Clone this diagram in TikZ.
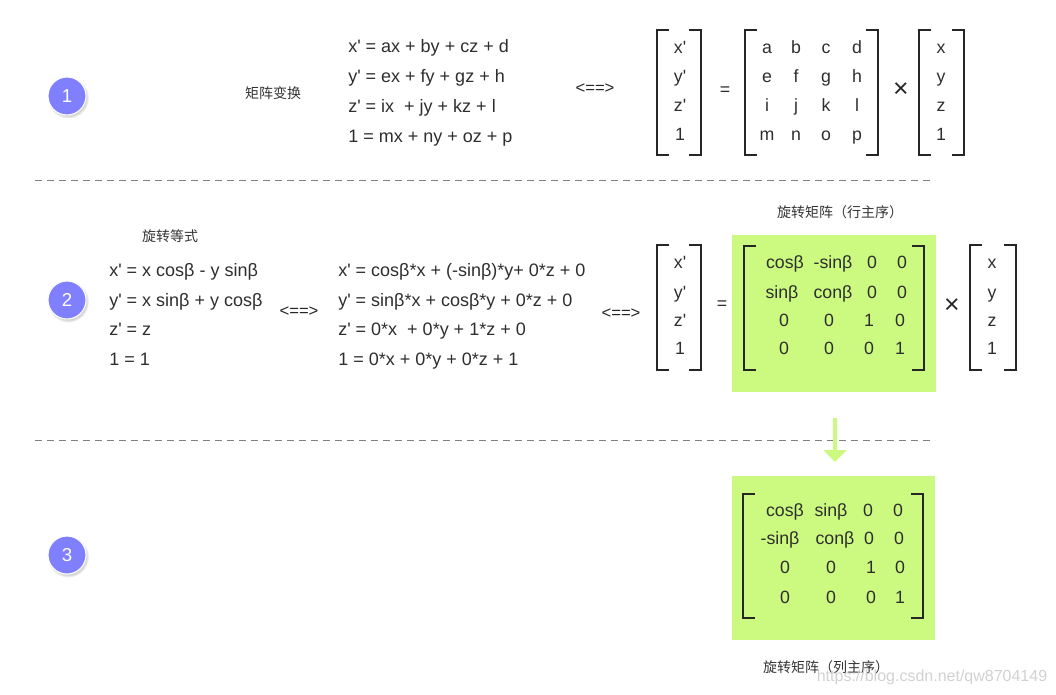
\documentclass[tikz,border=0pt]{standalone}
\usepackage{fontspec}
\setmainfont{Liberation Sans}[Ligatures=TeXOff]
\newfontfamily\cjk{Noto Sans CJK SC}
\usetikzlibrary{arrows.meta, shadows}
\definecolor{matgreen}{RGB}{204,249,128}
\definecolor{stepblue}{RGB}{128,128,255}
\tikzset{
  stepdot/.style={circle, minimum size=28.5pt, inner sep=0, fill=stepblue, draw=white, line width=0.8pt,
    text=white, font=\fontsize{14}{16}\selectfont,
    circular drop shadow={shadow xshift=0.8pt, shadow yshift=-1.2pt, opacity=0.35}},
  eq/.style={anchor=west, inner sep=0, text height=12pt, text depth=2.5pt, text=black!82, font=\fontsize{13.5}{15}\selectfont},
  ent/.style={inner sep=0, text height=12pt, text depth=2.5pt, text=black!82, font=\fontsize{13.3}{15}\selectfont},
  iff/.style={inner sep=0, text=black!85, font=\fontsize{12.5}{14}\selectfont},
  cn/.style={inner sep=0, text=black!80, font=\cjk\fontsize{10.5}{12}\selectfont},
  brk/.style={line width=1.1pt, black!85},
  sep/.style={line width=0.75pt, gray, dash pattern=on 5.25pt off 3.75pt},
  greenbox/.style={fill=matgreen, inner sep=0}
}
\begin{document}
\begin{tikzpicture}[x=0.75pt, y=-0.75pt]
\useasboundingbox (0,0) rectangle (1056,694);

\node[stepdot] (one) at (67,96) {1};
\node[stepdot] (two) at (67,300) {2};
\node[stepdot] (three) at (67,555) {3};

\node[cn] (transtitle) at (273,93) {矩阵变换};
\node[eq] (t1) at (348,46) {x' = ax + by + cz + d};
\node[eq] (t2) at (348,76) {y' = ex + fy + gz + h};
\node[eq] (t3) at (348,106) {z' = ix~ + jy + kz + l};
\node[eq] (t4) at (348,136) {1 = mx + ny + oz + p};
\node[iff] (tiff) at (595,89) {<==>};

\draw[brk] (669,30) -- (657,30) -- (657,155) -- (669,155);
\draw[brk] (689,30) -- (701,30) -- (701,155) -- (689,155);
\node[ent] (tv1) at (680,47) {x'};
\node[ent] (tv2) at (680,76) {y'};
\node[ent] (tv3) at (680,105) {z'};
\node[ent] (tv4) at (680,134) {1};
\node[ent] (teq) at (725,89) {=};

\draw[brk] (757,30) -- (745,30) -- (745,155) -- (757,155);
\draw[brk] (866,30) -- (878,30) -- (878,155) -- (866,155);
\node[ent] (ta) at (767,47) {a}; \node[ent] (tb) at (796,47) {b}; \node[ent] (tc) at (826,47) {c}; \node[ent] (td) at (857,47) {d};
\node[ent] (te) at (767,76) {e}; \node[ent] (tf) at (796,76) {f}; \node[ent] (tg) at (826,76) {g}; \node[ent] (th) at (857,76) {h};
\node[ent] (ti) at (767,105) {i}; \node[ent] (tj) at (796,105) {j}; \node[ent] (tk) at (826,105) {k}; \node[ent] (tl) at (857,105) {l};
\node[ent] (tm) at (767,134) {m}; \node[ent] (tn) at (796,134) {n}; \node[ent] (to) at (826,134) {o}; \node[ent] (tp) at (857,134) {p};
\node[inner sep=0, text=black!85, font=\fontsize{20}{20}\selectfont] (ttimes) at (901,90) {×};

\draw[brk] (931,30) -- (919,30) -- (919,155) -- (931,155);
\draw[brk] (952,30) -- (964,30) -- (964,155) -- (952,155);
\node[ent] (tx1) at (941,47) {x};
\node[ent] (tx2) at (941,76) {y};
\node[ent] (tx3) at (941,105) {z};
\node[ent] (tx4) at (941,134) {1};

\draw[sep] (35,180) -- (935,180);

\node[cn] (rottitle) at (170,236) {旋转等式};
\node[eq] (r1) at (109,270) {x' = x cosβ - y sinβ};
\node[eq] (r2) at (109,300) {y' = x sinβ + y cosβ};
\node[eq] (r3) at (109,329) {z' = z};
\node[eq] (r4) at (109,359) {1 = 1};
\node[iff] (riff) at (299,312) {<==>};
\node[eq] (s1) at (338,270) {x' = cosβ*x + (-sinβ)*y+ 0*z + 0};
\node[eq] (s2) at (338,300) {y' = sinβ*x + cosβ*y + 0*z + 0};
\node[eq] (s3) at (338,329) {z' = 0*x~ + 0*y + 1*z + 0};
\node[eq] (s4) at (338,359) {1 = 0*x + 0*y + 0*z + 1};
\node[iff] (siff) at (621,314) {<==>};

\draw[brk] (669,245) -- (657,245) -- (657,370) -- (669,370);
\draw[brk] (689,245) -- (701,245) -- (701,370) -- (689,370);
\node[ent] (rv1) at (680,262) {x'};
\node[ent] (rv2) at (680,292) {y'};
\node[ent] (rv3) at (680,320) {z'};
\node[ent] (rv4) at (680,348) {1};
\node[ent] (req) at (722,303) {=};

\node[cn] (rowtitle) at (840,212) {旋转矩阵（行主序）};
\node[greenbox, minimum width=153pt, minimum height=117.75pt] (rowbox) at (834,313.5) {};
\draw[brk] (756,246) -- (744,246) -- (744,370) -- (756,370);
\draw[brk] (912,246) -- (924,246) -- (924,370) -- (912,370);
\node[ent] (ra1) at (785,262) {cosβ}; \node[ent] (ra2) at (833,262) {-sinβ}; \node[ent] (ra3) at (872,262) {0}; \node[ent] (ra4) at (902,262) {0};
\node[ent] (rb1) at (782,292) {sinβ}; \node[ent] (rb2) at (833,292) {conβ}; \node[ent] (rb3) at (872,292) {0}; \node[ent] (rb4) at (902,292) {0};
\node[ent] (rc1) at (784,320) {0}; \node[ent] (rc2) at (829,320) {0}; \node[ent] (rc3) at (869,320) {1}; \node[ent] (rc4) at (900,320) {0};
\node[ent] (rd1) at (784,348) {0}; \node[ent] (rd2) at (829,348) {0}; \node[ent] (rd3) at (869,348) {0}; \node[ent] (rd4) at (900,348) {1};
\node[inner sep=0, text=black!85, font=\fontsize{20}{20}\selectfont] (rtimes) at (952,306) {×};

\draw[brk] (982,245) -- (970,245) -- (970,370) -- (982,370);
\draw[brk] (1004,245) -- (1016,245) -- (1016,370) -- (1004,370);
\node[ent] (rx1) at (992,262) {x};
\node[ent] (rx2) at (992,292) {y};
\node[ent] (rx3) at (992,320) {z};
\node[ent] (rx4) at (992,348) {1};

\draw[sep] (35,440) -- (935,440);

\node[greenbox, minimum width=152.25pt, minimum height=123pt] (colbox) at (833.5,558) {};
\coordinate (arrtop) at (835,418);
\coordinate (arrtip) at (835,462);
\draw[matgreen, line width=3pt, -{Triangle[width=17pt, length=9pt]}] (arrtop) -- (arrtip);

\draw[brk] (755,494) -- (743,494) -- (743,618) -- (755,618);
\draw[brk] (911,494) -- (923,494) -- (923,618) -- (911,618);
\node[ent] (ca1) at (785,510) {cosβ}; \node[ent] (ca2) at (831,510) {sinβ}; \node[ent] (ca3) at (868,510) {0}; \node[ent] (ca4) at (898,510) {0};
\node[ent] (cb1) at (780,538) {-sinβ}; \node[ent] (cb2) at (835,538) {conβ}; \node[ent] (cb3) at (869,538) {0}; \node[ent] (cb4) at (899,538) {0};
\node[ent] (cc1) at (785,567) {0}; \node[ent] (cc2) at (831,567) {0}; \node[ent] (cc3) at (871,567) {1}; \node[ent] (cc4) at (900,567) {0};
\node[ent] (cd1) at (785,597) {0}; \node[ent] (cd2) at (831,597) {0}; \node[ent] (cd3) at (871,597) {0}; \node[ent] (cd4) at (900,597) {1};
\node[cn] (coltitle) at (826,667) {旋转矩阵（列主序）};

\node[inner sep=0, text=black!18, font=\fontsize{12}{14}\selectfont] (mark) at (932,677) {https://blog.csdn.net/qw8704149};
\end{tikzpicture}
\end{document}
